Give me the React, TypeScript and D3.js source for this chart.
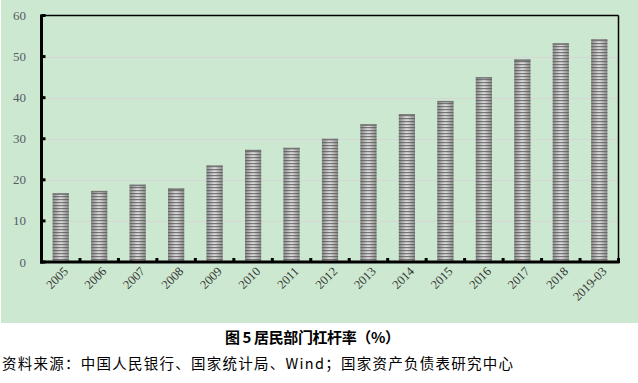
import React from "react";
import * as d3 from "d3";

const categories = ["2005","2006","2007","2008","2009","2010","2011","2012","2013","2014","2015","2016","2017","2018","2019-03"];
const values = [16.7, 17.3, 18.8, 17.9, 23.5, 27.3, 27.8, 30.0, 33.5, 36.0, 39.2, 45.0, 49.3, 53.2, 54.2];
const yTicks = [0, 10, 20, 30, 40, 50, 60];
const title = "图 5 居民部门杠杆率（%）";
const source = "资料来源：中国人民银行、国家统计局、Wind；国家资产负债表研究中心";

export default function App() {
  const W = 638, H = 383;
  const left = 41.5, right = 618.5, top = 15.5, bottom = 262;
  const x = d3.scaleBand<string>().domain(categories).range([left, right]).paddingInner(0.58).paddingOuter(0.29);
  const xb = d3.scaleBand<string>().domain(categories).range([left, right]);
  const y = d3.scaleLinear().domain([0, 60]).range([bottom, top]);
  const serif = "'Liberation Serif', 'DejaVu Serif', serif";
  return (
    <svg width={W} height={H} style={{ position: "absolute", left: 0, top: 0 }}>
      <defs>
        <linearGradient id="barGrad" x1="0" x2="1" y1="0" y2="0">
          <stop offset="0" stopColor="#8a8a8a" />
          <stop offset="0.45" stopColor="#d8d8d8" />
          <stop offset="0.55" stopColor="#d8d8d8" />
          <stop offset="1" stopColor="#8a8a8a" />
        </linearGradient>
        <pattern id="stripes" patternUnits="userSpaceOnUse" width="4" height="3" y={bottom}>
          <rect x="0" y="0" width="4" height="1.2" fill="#555" fillOpacity="0.75" />
        </pattern>
      </defs>
      <rect x={1} y={0} width={W - 1} height={323} fill="#cde8d0" />
      {yTicks.filter(t => t > 0 && t < 60).map(t => (
        <line key={t} x1={left} x2={right} y1={Math.round(y(t)) + 0.5} y2={Math.round(y(t)) + 0.5} stroke="#d6d6d6" strokeWidth={1} />
      ))}
      {categories.map((c, i) => (
        <g key={c}>
          <rect x={x(c)} y={y(values[i])} width={x.bandwidth()} height={bottom - y(values[i])} fill="url(#barGrad)" />
          <rect x={x(c)} y={y(values[i])} width={x.bandwidth()} height={bottom - y(values[i])} fill="url(#stripes)" />
          <rect x={x(c)} y={y(values[i])} width={x.bandwidth()} height={1.5} fill="#777" />
        </g>
      ))}
      {/* frame */}
      <line x1={left} x2={right} y1={top} y2={top} stroke="#000" strokeWidth={1.5} />
      <line x1={right} x2={right} y1={top} y2={bottom} stroke="#000" strokeWidth={1.5} />
      <line x1={left} x2={left} y1={top - 1} y2={bottom + 1.5} stroke="#000" strokeWidth={3} />
      <line x1={left - 1.5} x2={right + 1} y1={bottom} y2={bottom} stroke="#000" strokeWidth={3} />
      {yTicks.map(t => (
        <rect key={t} x={left} y={y(t) - 1.5} width={4} height={3} fill="#000" />
      ))}
      {categories.slice(1).map(c => (
        <rect key={c} x={(xb(c) as number) - 1.5} y={bottom - 4} width={3} height={4} fill="#000" />
      ))}
      <rect x={right - 1.5} y={bottom - 4} width={3} height={5} fill="#000" />
      {yTicks.map(t => (
        <text key={t} x={26} y={y(t)} dy="0.35em" textAnchor="end" fontFamily={serif} fontSize={13} fill="#555b66">{t}</text>
      ))}
      {categories.map(c => {
        const cx = (x(c) as number) + x.bandwidth() / 2 + 5;
        const cy = 269;
        return (
          <text key={c} transform={`translate(${cx},${cy}) rotate(-45)`} textAnchor="end" dy="0.35em" fontFamily={serif} fontSize={12.5} fill="#333">{c}</text>
        );
      })}
      <text x={225} y={338} dy="0.35em" textLength={175} lengthAdjust="spacing" fontFamily="'Noto Sans CJK SC', sans-serif" fontWeight="bold" fontSize={15} fill="#000">{title}</text>
      <text x={2} y={364} dy="0.35em" textLength={511} lengthAdjust="spacing" fontFamily="'Noto Sans CJK SC', sans-serif" fontSize={14.5} fill="#000">{source}</text>
    </svg>
  );
}
